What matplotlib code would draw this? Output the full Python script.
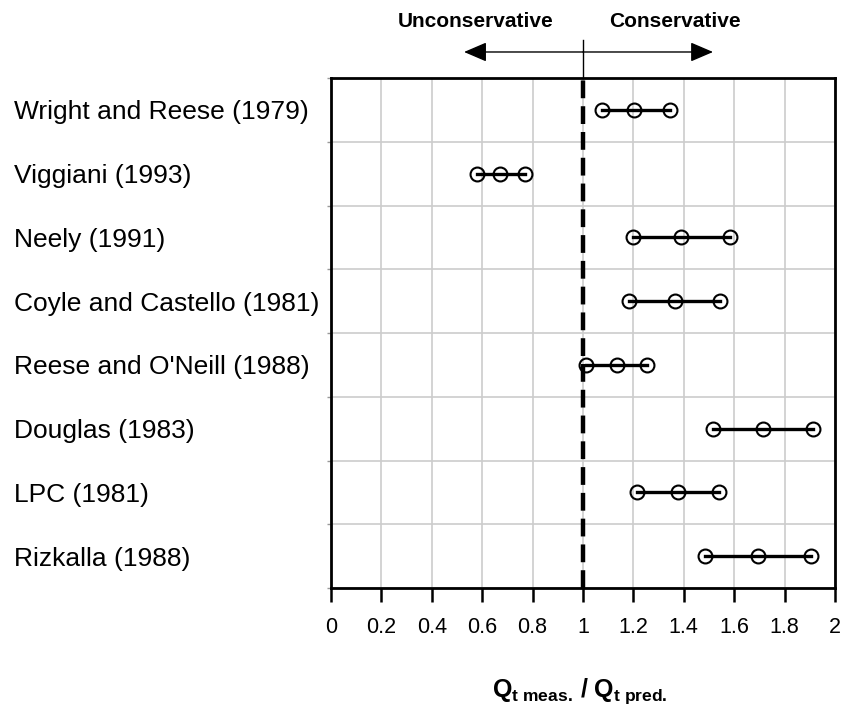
import matplotlib.pyplot as plt
import numpy as np

plt.rcParams['font.family'] = ['Liberation Sans', 'DejaVu Sans']
plt.rcParams['mathtext.fontset'] = 'custom'
plt.rcParams['mathtext.rm'] = 'Liberation Sans'
plt.rcParams['mathtext.bf'] = 'Liberation Sans:bold'

methods = [
    'Wright and Reese (1979)',
    'Viggiani (1993)',
    'Neely (1991)',
    'Coyle and Castello (1981)',
    "Reese and O'Neill (1988)",
    'Douglas (1983)',
    'LPC (1981)',
    'Rizkalla (1988)',
]
# min / mean / max of Qt meas. / Qt pred.
low = [1.077, 0.578, 1.197, 1.183, 1.012, 1.517, 1.216, 1.486]
mid = [1.204, 0.672, 1.390, 1.364, 1.136, 1.714, 1.377, 1.693]
high = [1.345, 0.770, 1.583, 1.544, 1.253, 1.911, 1.540, 1.904]
x_ticks = [0, 0.2, 0.4, 0.6, 0.8, 1, 1.2, 1.4, 1.6, 1.8, 2]
x_tick_labels = ['0', '0.2', '0.4', '0.6', '0.8', '1', '1.2', '1.4', '1.6', '1.8', '2']


def main():
    fig = plt.figure(figsize=(8.51, 7.11), dpi=100)
    ax = fig.add_axes([331 / 851, 1 - 588 / 711, 504 / 851, 510 / 711])

    n = len(methods)
    y = np.arange(n)
    for i in range(n):
        ax.plot([low[i], mid[i], high[i]], [y[i]] * 3, color='black', lw=2.4,
                marker='o', ms=10, mfc='none', mec='black', mew=1.5, zorder=4)

    ax.axvline(1.0, color='black', lw=3.2, ls=(0, (4, 1.8)), zorder=5)

    ax.set_xlim(0, 2)
    ax.set_ylim(n - 0.5, -0.5)
    ax.set_xticks(x_ticks)
    ax.set_xticklabels(x_tick_labels, fontsize=15.5)
    ax.tick_params(axis='x', direction='out', length=10, width=1.8, pad=11)

    ax.set_yticks(y)
    ax.set_yticklabels(methods, fontsize=19, ha='left')
    ax.tick_params(axis='y', length=0, pad=228)
    ax.set_yticks(np.arange(-0.5, n, 1.0), minor=True)
    ax.tick_params(axis='y', which='minor', length=3, width=1.0, color='#999999')

    ax.grid(True, axis='x', color='#cccccc', lw=1.2)
    ax.grid(True, axis='y', which='minor', color='#cccccc', lw=1.2)
    ax.set_axisbelow(True)
    for s in ax.spines.values():
        s.set_linewidth(2.0)

    # direction arrow above the plot
    xt = ax.get_xaxis_transform()
    for tip in (0.528, 1.516):
        ax.annotate('', xy=(tip, 1.051), xytext=(1.0, 1.051), xycoords=xt,
                    arrowprops=dict(arrowstyle='-|>,head_length=0.7,head_width=0.3',
                                    color='black', lw=1.0, mutation_scale=20,
                                    shrinkA=0, shrinkB=0))
    ax.plot([1.0, 1.0], [1.0, 1.0745], color='black', lw=1.0,
            transform=xt, clip_on=False)
    ax.text(0.575, 1.11, 'Unconservative', transform=xt,
            ha='center', va='center', fontsize=15, fontweight='bold')
    ax.text(1.365, 1.11, 'Conservative', transform=xt,
            ha='center', va='center', fontsize=15, fontweight='bold')

    fig.text(580 / 851, 1 - 691 / 711,
             r'$\mathbf{Q_{t\;meas.}\,/\;Q_{t\;pred.}}$',
             ha='center', va='center', fontsize=18)

    fig.savefig('out.png', dpi=100)


if __name__ == '__main__':
    main()
